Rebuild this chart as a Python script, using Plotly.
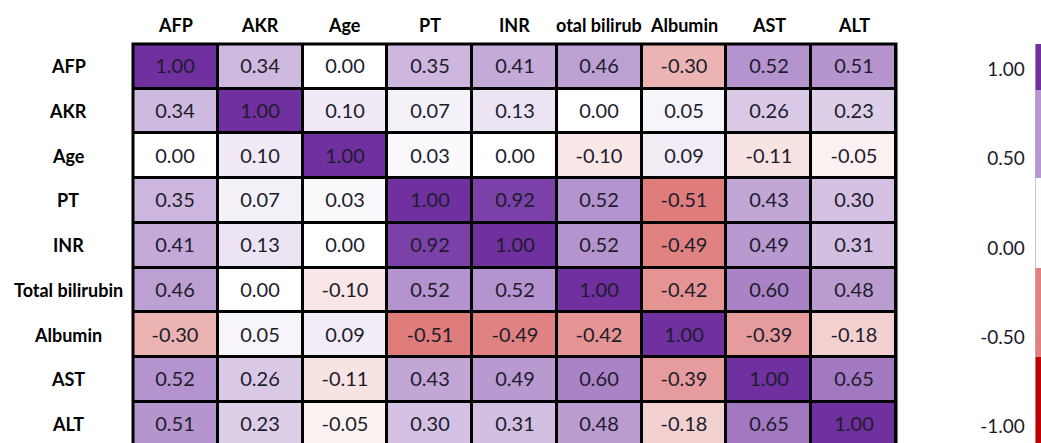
import plotly.graph_objects as go

categories = ["AFP", "AKR", "Age", "PT", "INR", "Total bilirubin", "Albumin", "AST", "ALT"]
col_header_text = ["AFP", "AKR", "Age", "PT", "INR", "otal bilirub", "Albumin", "AST", "ALT"]

corr = [
    [1.00, 0.34, 0.00, 0.35, 0.41, 0.46, -0.30, 0.52, 0.51],
    [0.34, 1.00, 0.10, 0.07, 0.13, 0.00, 0.05, 0.26, 0.23],
    [0.00, 0.10, 1.00, 0.03, 0.00, -0.10, 0.09, -0.11, -0.05],
    [0.35, 0.07, 0.03, 1.00, 0.92, 0.52, -0.51, 0.43, 0.30],
    [0.41, 0.13, 0.00, 0.92, 1.00, 0.52, -0.49, 0.49, 0.31],
    [0.46, 0.00, -0.10, 0.52, 0.52, 1.00, -0.42, 0.60, 0.48],
    [-0.30, 0.05, 0.09, -0.51, -0.49, -0.42, 1.00, -0.39, -0.18],
    [0.52, 0.26, -0.11, 0.43, 0.49, 0.60, -0.39, 1.00, 0.65],
    [0.51, 0.23, -0.05, 0.30, 0.31, 0.48, -0.18, 0.65, 1.00],
]

legend_values = [-1.0, -0.5, 0.0, 0.5, 1.0]
legend_edges = [-1.2, -0.61, -0.11, 0.39, 0.885, 1.3]
legend_range = [-1.092, 1.143]
legend_ticks = [1.0, 0.5, 0.0, -0.5, -1.0]
legend_ticktext = ["1.00", "0.50", "0.00", "-0.50", "-1.00"]

colorscale = [[0.0, "#C00000"], [0.5, "#FFFFFF"], [1.0, "#7030A0"]]
FONT = "Lato, Open Sans, sans-serif"

W, H = 1041, 443
ML, MT = 133, 44
plot_w = W - ML
plot_h = H - MT
grid_w = 763
row_h = 44.7
n = len(categories)
y_bottom = -0.5 + plot_h / row_h

fig = go.Figure()

fig.add_trace(go.Heatmap(
    z=corr, x=categories, y=categories,
    colorscale=colorscale, zmin=-1, zmax=1, showscale=False,
    xgap=3, ygap=3,
    texttemplate="%{z:.2f}",
    textfont=dict(family=FONT, size=20, color="#1c1c2c"),
    hoverinfo="skip",
))

fig.add_trace(go.Heatmap(
    z=[[v] for v in legend_values], x=[-1, 2], y=legend_edges,
    colorscale=colorscale, zmin=-1, zmax=1, showscale=False,
    xaxis="x2", yaxis="y2", hoverinfo="skip",
))

annotations = []
for cat in categories:
    annotations.append(dict(
        x=(68 - ML) / plot_w, xref="paper", y=cat, yref="y",
        text="<b>%s</b>" % cat, showarrow=False, xanchor="center", yanchor="middle",
        font=dict(family=FONT, size=18, color="#000000"),
    ))
for cat, txt in zip(categories, col_header_text):
    annotations.append(dict(
        x=cat, xref="x", y=(H - 25) / plot_h, yref="paper",
        text="<b>%s</b>" % txt, showarrow=False, xanchor="center", yanchor="middle",
        font=dict(family=FONT, size=18, color="#000000"),
    ))

fig.update_layout(
    width=W, height=H,
    margin=dict(l=ML, r=0, t=MT, b=0, pad=0),
    paper_bgcolor="white", plot_bgcolor="black",
    xaxis=dict(domain=[0, grid_w / plot_w], range=[-0.5, n - 0.5],
               showticklabels=False, showgrid=False, zeroline=False, ticks=""),
    yaxis=dict(range=[y_bottom, -0.5], showticklabels=False, showgrid=False,
               zeroline=False, ticks=""),
    xaxis2=dict(domain=[(1035.7 - ML) / plot_w, 1], range=[0, 1], anchor="y2",
                showticklabels=False, showgrid=False, zeroline=False, ticks=""),
    yaxis2=dict(domain=[0, 1], range=legend_range, anchor="x2",
                side="left", tickvals=legend_ticks, ticktext=legend_ticktext,
                ticks="outside", ticklen=6, tickcolor="rgba(0,0,0,0)",
                tickfont=dict(family=FONT, size=19, color="#1c1c2c"),
                showgrid=False, zeroline=False, showline=False),
    annotations=annotations,
    shapes=[dict(type="rect", xref="paper", yref="paper",
                 x0=0, x1=grid_w / plot_w, y0=-0.05, y1=1,
                 line=dict(color="black", width=3), fillcolor="rgba(0,0,0,0)")],
)

fig.write_html("out.html", config={"displayModeBar": False},
               post_script="document.body.style.margin='0';")
